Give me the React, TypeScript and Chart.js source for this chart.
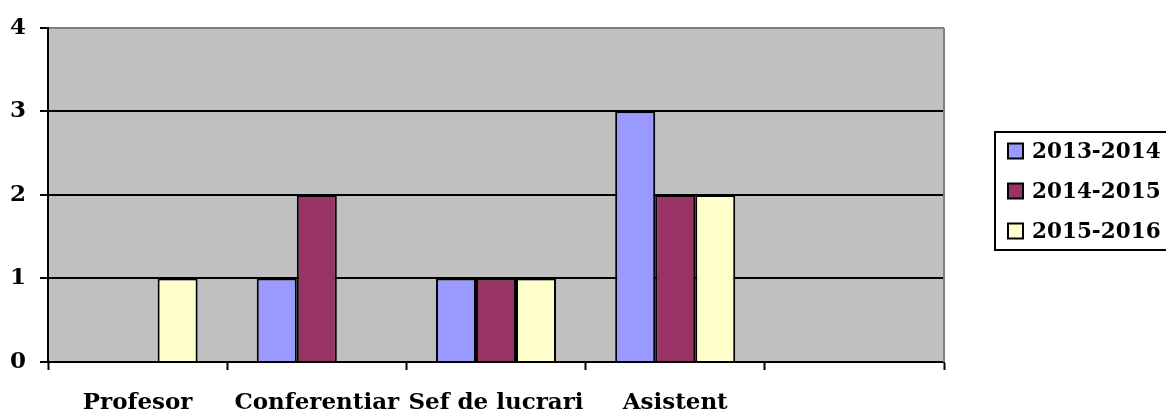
import React, { useEffect, useRef } from "react";
import { Chart, registerables } from "chart.js";

Chart.register(...registerables);

const categories = ["Profesor", "Conferentiar", "Sef de lucrari", "Asistent", ""];
const seriesNames = ["2013-2014", "2014-2015", "2015-2016"];
const values2013 = [0, 1, 1, 3, null];
const values2014 = [0, 2, 1, 2, null];
const values2015 = [1, 0, 1, 2, null];
const seriesColors = ["#9999FF", "#993366", "#FFFFCC"];
const yTicks = [0, 1, 2, 3, 4];

const FONT = "'DejaVu Serif', serif";

const plotBg = {
  id: "plotBg",
  beforeDraw(chart: any) {
    const { ctx, chartArea } = chart;
    ctx.save();
    ctx.fillStyle = "#C0C0C0";
    ctx.fillRect(chartArea.left, chartArea.top, chartArea.right - chartArea.left, chartArea.bottom - chartArea.top);
    ctx.restore();
  },
  afterDraw(chart: any) {
    const { ctx, chartArea } = chart;
    ctx.save();
    ctx.strokeStyle = "#808080";
    ctx.lineWidth = 2;
    ctx.beginPath();
    ctx.moveTo(chartArea.right, chartArea.top);
    ctx.lineTo(chartArea.right, chartArea.bottom);
    ctx.stroke();
    const lx = chartArea.right + 51;
    const ly = 132;
    const lh = 118;
    ctx.strokeStyle = "#000";
    ctx.lineWidth = 2;
    ctx.strokeRect(lx, ly, 300, lh);
    ctx.font = "bold 21.5px " + FONT;
    ctx.textBaseline = "middle";
    ctx.textAlign = "left";
    chart.data.datasets.forEach((ds: any, i: number) => {
      const cy = ly + 19 + i * 40;
      ctx.fillStyle = ds.backgroundColor;
      ctx.fillRect(lx + 13, cy - 7.5, 15, 15);
      ctx.lineWidth = 2;
      ctx.strokeStyle = "#000";
      ctx.strokeRect(lx + 13, cy - 7.5, 15, 15);
      ctx.fillStyle = "#000";
      ctx.fillText(ds.label, lx + 37, cy + 1);
    });
    ctx.restore();
  },
};

export default function App() {
  const ref = useRef<HTMLCanvasElement | null>(null);
  useEffect(() => {
    document.body.style.margin = "0";
    const chart = new Chart(ref.current as HTMLCanvasElement, {
      type: "bar",
      data: {
        labels: categories,
        datasets: [values2013, values2014, values2015].map((d, i) => ({
          label: seriesNames[i],
          data: d,
          backgroundColor: seriesColors[i],
          borderColor: "#000",
          borderWidth: 2,
          categoryPercentage: 0.67,
          barPercentage: 1,
        })),
      },
      options: {
        animation: false,
        responsive: false,
        maintainAspectRatio: false,
        layout: { padding: { left: 0, top: 26, right: 222, bottom: 0 } },
        plugins: { legend: { display: false }, tooltip: { enabled: false } },
        scales: {
          x: {
            offset: true,
            grid: {
              offset: true,
              drawOnChartArea: false,
              drawTicks: true,
              tickLength: 8,
              tickWidth: 2,
              tickColor: "#000",
            },
            border: { color: "#000", width: 2 },
            ticks: {
              color: "#000",
              font: { family: FONT, size: 23, weight: "bold" },
              padding: 19,
              maxRotation: 0,
              autoSkip: false,
            },
            afterFit(scale: any) {
              scale.height = 50;
            },
          },
          y: {
            min: 0,
            max: 4,
            afterBuildTicks(scale: any) {
              scale.ticks = yTicks.map((v) => ({ value: v }));
            },
            grid: {
              color: (c: any) => (c.tick && c.tick.value === 4 ? "#808080" : "#000"),
              lineWidth: 2,
              tickLength: 8,
              tickColor: "#000",
              tickWidth: 2,
            },
            border: { color: "#000", width: 2 },
            ticks: {
              color: "#000",
              font: { family: FONT, size: 23, weight: "bold" },
              padding: 14,
            },
            afterFit(scale: any) {
              scale.width = 48;
            },
          },
        },
      },
      plugins: [plotBg],
    } as any);
    return () => chart.destroy();
  }, []);
  return (
    <div style={{ position: "absolute", left: 0, top: 0, width: 1166, height: 412 }}>
      <canvas ref={ref} width={1166} height={412} style={{ width: 1166, height: 412 }} />
    </div>
  );
}
